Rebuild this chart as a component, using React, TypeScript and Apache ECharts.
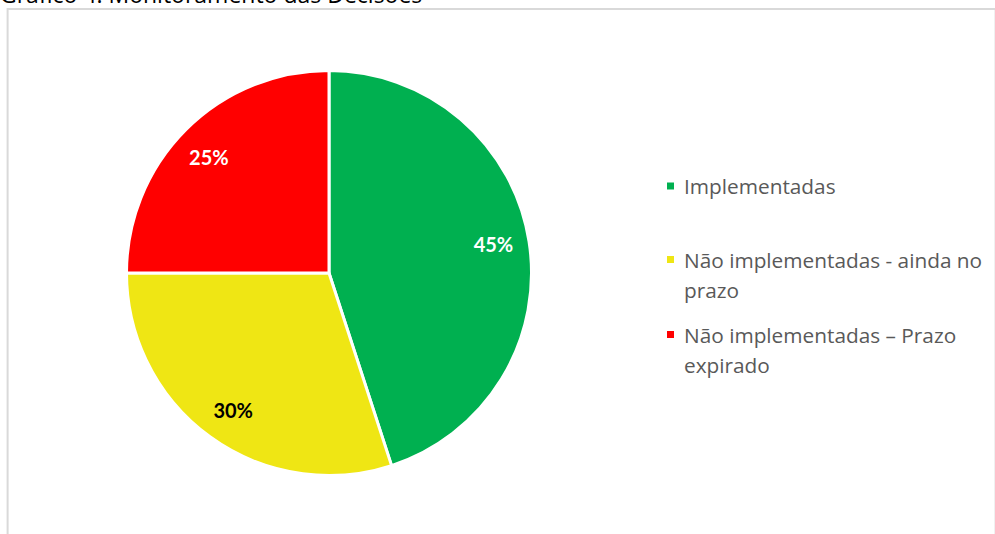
import React, { useEffect, useRef } from "react";
import * as echarts from "echarts";

// Decision monitoring: share of decisions by implementation status
const categories = [
  "Implementadas",
  "Não implementadas - ainda no prazo",
  "Não implementadas – Prazo expirado",
];
const legendLines = [
  ["Implementadas"],
  ["Não implementadas - ainda no", "prazo"],
  ["Não implementadas – Prazo", "expirado"],
];
const shares = [45, 30, 25];
const sliceColors = ["#00B050", "#EFE614", "#FF0000"];
const labelColors = ["#FFFFFF", "#000000", "#FFFFFF"];
const title = "Gráfico 4: Monitoramento das Decisões";

const TEXT_FONT = "'Open Sans', sans-serif";
const LABEL_FONT = "Lato, 'Open Sans', sans-serif";

export default function App() {
  const ref = useRef<HTMLDivElement>(null);

  useEffect(() => {
    if (!ref.current) return;
    const chart = echarts.init(ref.current, undefined, { renderer: "svg" });

    const pieData = categories.map((name, i) => ({
      name,
      value: shares[i],
      itemStyle: { color: sliceColors[i] },
    }));

    // Transparent ring used only to place the percentage labels part-way out
    const labelData = categories.map((name, i) => ({
      name,
      value: shares[i],
      label: { color: labelColors[i] },
    }));

    // One legend per entry; wrapped entries get a blank leading line so the
    // marker stays level with their first line of text
    const legendTops = [171, 214.5, 289.5];
    const legends = categories.map((name, i) => {
      const lines = legendLines[i];
      const text = lines.length > 1 ? ["\u00a0", ...lines].join("\n") : lines[0];
      return {
        show: true,
        orient: "vertical",
        left: 665,
        top: legendTops[i],
        padding: 0,
        selectedMode: false,
        icon: "rect",
        itemWidth: 9,
        itemHeight: 9,
        formatter: () => text,
        textStyle: {
          color: "#595959",
          fontFamily: TEXT_FONT,
          fontSize: 20.8,
          lineHeight: 30,
          padding: [0, 0, 0, 4],
        },
        data: [name],
      };
    });

    chart.setOption({
      animation: false,
      backgroundColor: "#FFFFFF",
      legend: legends,
      graphic: [
        {
          type: "rect",
          shape: { x: 7.6, y: 9, width: 988, height: 560 },
          style: { fill: "none", stroke: "#D9D9D9", lineWidth: 2 },
          silent: true,
        },
        {
          type: "text",
          x: 0,
          y: 5,
          style: {
            text: title,
            fill: "#000000",
            font: `23px ${TEXT_FONT}`,
            verticalAlign: "bottom",
          },
          silent: true,
        },
      ],
      series: [
        {
          type: "pie",
          center: [329, 273],
          radius: [0, 202.5],
          startAngle: 90,
          clockwise: true,
          silent: true,
          label: { show: false },
          labelLine: { show: false },
          itemStyle: { borderColor: "#FFFFFF", borderWidth: 3 },
          data: pieData,
        },
        {
          type: "pie",
          center: [329, 273],
          radius: [126, 202],
          startAngle: 91,
          clockwise: true,
          silent: true,
          itemStyle: { color: "transparent", borderWidth: 0 },
          label: {
            show: true,
            position: "inside",
            formatter: "{c}%",
            fontFamily: LABEL_FONT,
            fontWeight: "bold",
            fontSize: 20,
          },
          labelLine: { show: false },
          data: labelData,
        },
      ],
    });

    return () => chart.dispose();
  }, []);

  return (
    <div
      ref={ref}
      style={{ position: "fixed", left: 0, top: 0, width: 995, height: 534 }}
    />
  );
}
